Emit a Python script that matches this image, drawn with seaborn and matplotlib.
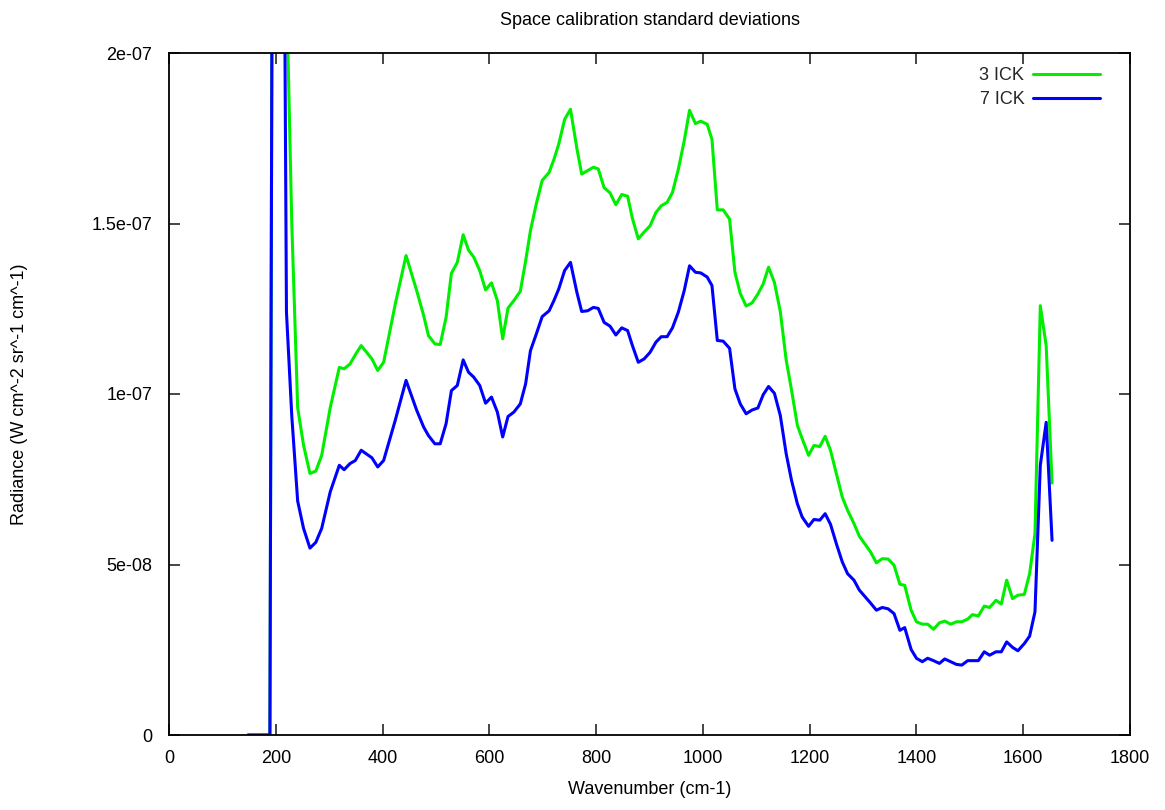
import numpy as np
import pandas as pd
import seaborn as sns
import matplotlib
matplotlib.use("Agg")
import matplotlib.pyplot as plt

# values, radiance in units of 1e-8
wavenumber = [143, 184, 195, 205, 215, 225, 236, 247, 259, 270, 281, 297, 314, 323, 334, 344,
              355, 375, 386, 397, 419, 439, 459, 472, 481, 493, 503, 514, 524, 535, 546, 556,
              566, 577, 588, 599, 610, 620, 630, 641, 653, 663, 672, 683, 694, 707, 716, 725,
              736, 747, 759, 768, 779, 790, 799, 810, 821, 832, 843, 854, 863, 874, 885, 896,
              907, 917, 928, 938, 949, 960, 970, 981, 991, 1003, 1012, 1022, 1033, 1045, 1055,
              1065, 1076, 1087, 1098, 1108, 1118, 1129, 1140, 1151, 1161, 1172, 1181, 1193,
              1203, 1214, 1224, 1234, 1245, 1256, 1266, 1278, 1288, 1298, 1309, 1320, 1331,
              1342, 1353, 1364, 1373, 1385, 1395, 1406, 1416, 1427, 1438, 1448, 1459, 1470,
              1480, 1491, 1500, 1511, 1522, 1532, 1544, 1554, 1564, 1575, 1585, 1597, 1607,
              1617, 1627, 1638, 1649]

ick3 = [0, 0, 60, 40, 22, 15.0, 9.6, 8.5, 7.67, 7.74, 8.2, 9.6, 10.78, 10.74, 10.88, 11.15,
        11.42, 11.03, 10.69, 10.93, 12.65, 14.06, 13.03, 12.3, 11.71, 11.47, 11.45, 12.25, 13.54,
        13.86, 14.67, 14.22, 14.01, 13.62, 13.05, 13.26, 12.74, 11.62, 12.52, 12.74, 13.01, 13.9,
        14.79, 15.58, 16.26, 16.5, 16.88, 17.33, 18.05, 18.35, 17.2, 16.45, 16.55, 16.65, 16.6,
        16.05, 15.9, 15.55, 15.85, 15.8, 15.15, 14.55, 14.75, 14.93, 15.32, 15.52, 15.62, 15.91,
        16.59, 17.42, 18.32, 17.93, 18.0, 17.91, 17.47, 15.4, 15.4, 15.13, 13.57, 12.95, 12.58,
        12.67, 12.93, 13.23, 13.72, 13.27, 12.42, 11.0, 10.12, 9.08, 8.69, 8.2, 8.49, 8.46, 8.76,
        8.35, 7.66, 6.98, 6.59, 6.2, 5.83, 5.61, 5.37, 5.05, 5.17, 5.16, 4.98, 4.42, 4.39, 3.66,
        3.32, 3.25, 3.25, 3.1, 3.29, 3.34, 3.25, 3.32, 3.32, 3.4, 3.53, 3.49, 3.78, 3.74, 3.95,
        3.84, 4.54, 4.0, 4.1, 4.12, 4.73, 5.9, 12.59, 11.42, 7.39]

ick7 = [0, 0, 60, 40, 12.4, 9.35, 6.86, 6.06, 5.48, 5.65, 6.06, 7.13, 7.91, 7.78, 7.96, 8.05,
        8.35, 8.13, 7.86, 8.05, 9.24, 10.4, 9.52, 9.03, 8.78, 8.54, 8.54, 9.13, 10.1, 10.25,
        11.0, 10.64, 10.49, 10.25, 9.73, 9.91, 9.47, 8.74, 9.34, 9.47, 9.71, 10.3, 11.27, 11.76,
        12.27, 12.44, 12.74, 13.08, 13.62, 13.86, 12.98, 12.42, 12.44, 12.54, 12.51, 12.1, 11.99,
        11.73, 11.94, 11.86, 11.42, 10.93, 11.03, 11.22, 11.52, 11.68, 11.68, 11.94, 12.4, 13.03,
        13.76, 13.57, 13.55, 13.43, 13.18, 11.57, 11.55, 11.34, 10.15, 9.71, 9.42, 9.53, 9.59,
        9.98, 10.22, 10.02, 9.37, 8.25, 7.47, 6.78, 6.39, 6.12, 6.32, 6.3, 6.49, 6.18, 5.61, 5.08,
        4.73, 4.54, 4.25, 4.07, 3.87, 3.66, 3.74, 3.7, 3.56, 3.07, 3.15, 2.51, 2.25, 2.15, 2.25,
        2.18, 2.1, 2.23, 2.15, 2.07, 2.05, 2.18, 2.18, 2.18, 2.44, 2.34, 2.44, 2.44, 2.73, 2.57,
        2.47, 2.68, 2.9, 3.61, 7.91, 9.17, 5.71]

series_names = ["3 ICK", "7 ICK"]
series_colors = ["#00ee00", "#0000ff"]
x_ticks = [0, 200, 400, 600, 800, 1000, 1200, 1400, 1600, 1800]
y_ticks = [0, 5e-08, 1e-07, 1.5e-07, 2e-07]
y_tick_labels = ["0", "5e-08", "1e-07", "1.5e-07", "2e-07"]

# shift read positions by the small calibration offset found on the axis
wn = np.array(wavenumber, dtype=float) + 5
df = pd.DataFrame({
    "wavenumber": np.concatenate([wn, wn]),
    "radiance": np.concatenate([np.array(ick3), np.array(ick7)]) * 1e-8,
    "series": [series_names[0]] * len(wn) + [series_names[1]] * len(wn),
})

sns.set_theme(style="white")
plt.rcParams["font.family"] = ["Liberation Sans", "DejaVu Sans"]
fs = 13

fig = plt.figure(figsize=(11.65, 8.1), dpi=100)
ax = fig.add_axes([169 / 1165, 1 - 735 / 810, (1130 - 169) / 1165, (735 - 53) / 810])

sns.lineplot(data=df, x="wavenumber", y="radiance", hue="series",
             palette=series_colors, linewidth=2.2, ax=ax, legend=False,
             estimator=None, sort=False)

ax.set_xlim(0, 1800)
ax.set_ylim(0, 2e-07)
ax.set_xticks(x_ticks)
ax.set_xticklabels([str(t) for t in x_ticks], fontsize=fs, color="black")
ax.set_yticks(y_ticks)
ax.set_yticklabels(y_tick_labels, fontsize=fs, color="black")
ax.tick_params(direction="in", length=8, width=1.2, top=True, right=True,
               bottom=True, left=True)
ax.tick_params(axis="y", pad=12)
ax.tick_params(axis="x", pad=11)

for s in ax.spines.values():
    s.set_color("black")
    s.set_linewidth(1.3)

ax.set_xlabel("Wavenumber (cm-1)", fontsize=fs, color="black", labelpad=10)
ax.set_ylabel("Radiance (W cm^-2 sr^-1 cm^-1)", fontsize=fs, color="black")
ax.yaxis.set_label_coords((28 - 169) / 961, 0.5)
ax.set_title("Space calibration standard deviations", fontsize=fs, color="black", pad=20)

handles = [plt.Line2D([], [], color=c, linewidth=2.2) for c in series_colors]
ax.legend(handles, series_names, loc="upper right", frameon=False, markerfirst=False,
          fontsize=fs, handlelength=3.7, handletextpad=0.5, labelspacing=0.38,
          borderaxespad=0.4, bbox_to_anchor=(0.984, 1.0))

fig.savefig("out.png", dpi=100)
